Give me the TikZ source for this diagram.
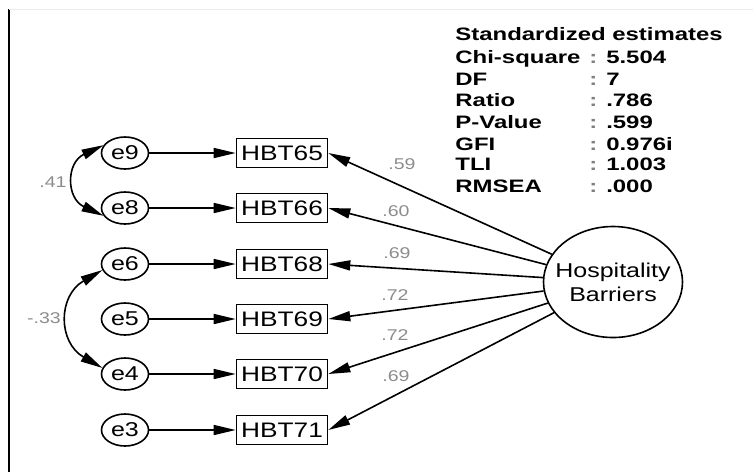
\documentclass[tikz,border=0pt]{standalone}
\usepackage{fontspec}
\setmainfont{Liberation Sans}[FakeStretch=1.25]
\newfontfamily\statfont{Liberation Sans}[FakeStretch=1.33]
\usetikzlibrary{arrows.meta,shapes.geometric}
\tikzset{
  err/.style={ellipse, draw, line width=0.8pt, minimum width=23.5pt, minimum height=16pt, inner sep=0pt, font=\fontsize{10}{12}\selectfont},
  obs/.style={rectangle, draw, line width=0.8pt, minimum width=45.5pt, minimum height=14.5pt, inner sep=0pt, font=\fontsize{10.5}{12}\selectfont},
  lat/.style={ellipse, draw, line width=0.8pt, minimum width=69.5pt, minimum height=55.5pt, inner xsep=-4.3pt, inner ysep=0pt, align=center, font=\fontsize{10}{12}\selectfont},
  est/.style={text=black!45, inner sep=0pt, font=\fontsize{7.8}{9}\selectfont},
  stat/.style={anchor=base west, inner sep=0pt, font=\statfont\bfseries\fontsize{9}{11}\selectfont},
  conn/.style={line width=0.8pt, -{Triangle[length=11pt,width=5pt]}},
  cov/.style={line width=0.8pt, {Triangle[length=11pt,width=5pt]}-{Triangle[length=11pt,width=5pt]}}
}
\begin{document}
\begin{tikzpicture}[x=0.5pt,y=-0.5pt]
    \useasboundingbox (0,0) rectangle (753,472);
    \draw[line width=1pt] (9,9) -- (9,472);
    \draw[black!8] (9,9) -- (753,9);
    % fit indices
    \node[stat] (title) at (455,40) {Standardized estimates};
    \foreach \k/\v/\y in {Chi-square/5.504/63, DF/7/85, Ratio/.786/106, P-Value/.599/128, GFI/0.976i/150, TLI/1.003/170, RMSEA/.000/192} {
        \node[stat] (k\y) at (455,\y) {\k};
        \node[stat] (v\y) at (589,\y) {{\color{black!50}:} \v};
    }
    % latent factor
    \node[lat] (hb) at (613,282) {Hospitality\\Barriers};
    % errors and items
    \foreach \e/\h/\y in {9/65/153, 8/66/208, 6/68/264, 5/69/319, 4/70/374, 3/71/430} {
        \node[err] (e\e) at (125,\y) {e\e};
        \node[obs] (hbt\h) at (282,\y) {HBT\h};
        \draw[conn] (e\e) -- (hbt\h);
    }
    % loadings
    \foreach \h/\v/\x/\y in {65/.59/402/164, 66/.60/396/211, 68/.69/397/253, 69/.72/395/295, 70/.72/395/335, 71/.69/396/376} {
        \draw[conn] (hb) -- (hbt\h.east);
        \node[est] (l\h) at (\x,\y) {\v};
    }
    % covariances
    \draw[cov] (e9.160) to[out=205,in=155,looseness=1.5] (e8.200);
    \node[est] (c98) at (53,182) {.41};
    \draw[cov] (e6.195) to[out=210,in=150,looseness=1.35] (e4.165);
    \node[est] (c64) at (44,318) {-.33};
\end{tikzpicture}
\end{document}
